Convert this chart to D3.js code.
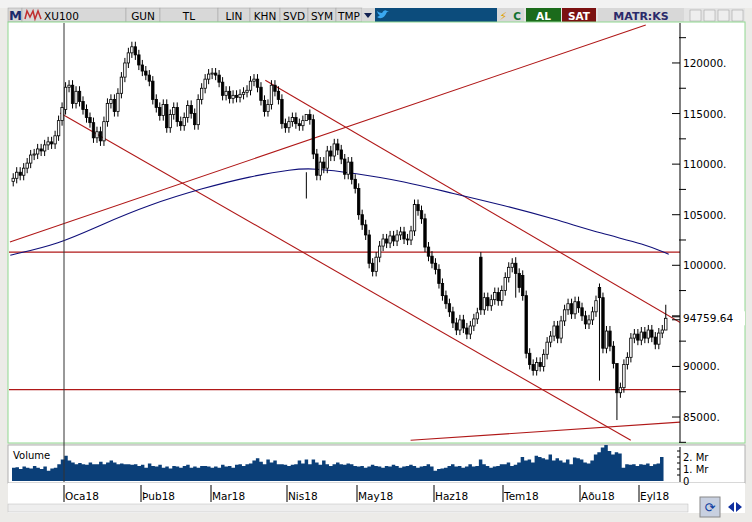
<!DOCTYPE html>
<html><head><meta charset="utf-8">
<script src="https://cdn.jsdelivr.net/npm/d3@7"></script>
<style>
body{margin:0;background:#d4d0c8;font-family:Tahoma,"DejaVu Sans",sans-serif;}
svg text{font-family:"DejaVu Sans",sans-serif;}
</style></head><body>
<svg id="c" width="752" height="522"></svg>
<script>
// daily closes (thousands), Dec 11 2017 .. Sep 12 2018
const closes = [
  108.6,109.2,108.9,109.6,110.1,110.9,111.0,111.5,111.3,111.9,112.2,112.0,112.8,114.3,115.6,
  117.6,117.8,116.0,117.2,116.2,115.4,114.6,114.1,112.6,113.2,112.3,114.2,116.0,116.4,115.2,117.0,118.6,120.0,121.0,121.6,120.8,119.8,
  119.2,118.8,118.2,116.4,115.6,114.8,115.9,113.6,114.9,115.6,114.2,113.8,114.6,115.8,115.0,113.9,116.4,117.5,118.4,118.9,
  119.0,118.8,118.1,116.8,117.2,116.5,116.8,116.6,116.9,117.1,117.3,118.2,118.4,117.6,116.3,115.2,115.9,117.8,117.2,116.4,114.0,113.6,
  114.2,114.6,114.0,113.8,114.3,114.9,114.4,111.0,108.9,110.2,109.6,111.3,110.8,112.0,111.4,110.5,109.0,110.2,108.5,107.6,
  105.0,104.0,103.0,100.2,99.4,100.8,101.9,102.6,102.2,102.9,102.4,103.0,103.3,102.6,102.5,103.4,106.0,105.4,104.6,101.8,100.9,100.2,
  99.6,98.2,97.0,96.2,95.4,94.3,93.6,94.6,93.8,93.2,94.0,94.7,95.3,95.6,96.8,96.0,96.6,97.3,96.5,97.5,
  98.8,99.8,100.2,99.2,97.8,97.0,91.3,90.2,89.6,90.4,90.0,91.2,92.4,93.0,94.0,92.8,94.5,95.6,96.2,95.2,96.4,95.8,
  95.0,94.2,94.6,95.4,96.5,96.8,91.8,93.5,92.0,90.3,87.4,87.9,90.2,90.9,92.8,93.2,92.6,
  93.4,92.8,93.6,92.9,92.2,93.3,93.6,94.76
];
const openOverrides = [[15,115.4],[134,100.8],[146,99.0],[168,97.8]];
const wickOverrides = [[84,109.2,106.6],[168,98.2,88.6],[173,88.4,84.7],[144,100.8,96.8],[187,96.1,94.4]];
// daily volume, billions (Mr)
const volumes = [
  1.1,1.15,1.0,1.2,1.1,1.05,1.25,1.1,1.0,1.2,0.85,1.05,1.1,1.4,1.8,
  2.1,1.7,1.55,1.4,1.5,1.4,1.35,1.55,1.4,1.4,1.6,1.4,1.55,1.7,1.55,1.4,1.45,1.4,1.4,1.35,1.4,1.25,
  1.35,1.1,1.45,1.25,1.2,1.35,1.1,1.2,1.05,1.25,1.2,1.1,1.25,1.35,1.1,1.2,1.1,1.25,1.25,1.2,
  1.1,1.2,1.1,1.35,1.2,1.25,1.1,1.35,1.4,1.25,1.4,1.45,1.7,1.9,1.6,1.4,1.8,1.55,1.7,1.4,1.4,1.35,
  1.25,1.35,1.4,1.7,1.45,1.8,1.4,1.8,1.55,1.35,1.7,1.4,1.25,1.4,1.55,1.4,1.35,1.45,1.4,1.25,
  1.2,1.25,1.1,1.2,1.35,1.25,1.2,1.1,1.25,1.2,1.35,1.25,1.1,1.2,1.25,1.35,1.25,1.1,1.2,1.25,1.4,1.2,
  0.85,1.0,1.05,1.1,1.25,1.4,1.2,1.25,1.1,1.2,1.4,1.2,1.25,1.8,1.4,1.25,1.1,1.2,1.25,1.4,
  1.4,1.55,1.25,1.35,1.55,2.0,1.7,1.8,1.55,2.1,2.0,1.9,1.8,2.2,1.7,1.9,1.7,1.55,1.8,1.4,1.95,1.9,
  1.8,1.55,1.45,1.7,2.2,2.4,2.8,3.0,2.5,2.2,2.4,2.3,1.1,1.4,1.35,1.4,1.25,
  1.4,1.35,1.45,1.25,1.4,1.45,2.0,2.0
];
// trend lines: [index, price] pairs
const trendLines = [
  [[-1.1,102.3],[181.4,123.76]],
  [[72.2,118.3],[191.5,94.3]],
  [[13.3,115.06],[177.1,82.7]],
  [[113.9,82.7],[191.5,84.5]]
];
const hLines = [101.3, 87.7];
const maPoints = [[-1,101.0],[13,102.1],[25,104.0],[39,106.0],[54,107.6],[68,108.8],[80,109.5],[86,109.6],[98,109.1],[112,108.3],[126,107.1],[141,105.9],[155,104.6],[169,103.1],[181,102.1],[188,101.1]];
const priceTicks = [85,90,100,105,110,115,120];
const monthLabels = ["Oca18","Þub18","Mar18","Nis18","May18","Haz18","Tem18","Aðu18","Eyl18"];
const holidays = ["2018-01-01","2018-04-23","2018-05-01","2018-06-15","2018-08-20","2018-08-21","2018-08-22","2018-08-23","2018-08-24","2018-08-30"];

// trading days
const dates = [];
for (let d = new Date(Date.UTC(2017,11,11)); dates.length < closes.length; d.setUTCDate(d.getUTCDate()+1)) {
  const wd = d.getUTCDay(), s = d.toISOString().slice(0,10);
  if (wd > 0 && wd < 6 && !holidays.includes(s)) dates.push(new Date(d));
}
const candles = closes.map((c,i) => {
  const ov = openOverrides.find(o => o[0] === i);
  const o = ov ? ov[1] : (i ? closes[i-1] : c - 0.3);
  const w = wickOverrides.find(v => v[0] === i);
  return {i, o, c, h: w ? w[1] : Math.max(o,c)+0.5, l: w ? w[2] : Math.min(o,c)-0.5};
});

const svg = d3.select('#c');
// frame / toolbar
svg.append('rect').attr('width',752).attr('height',522).attr('fill','#ecebe8');
svg.append('rect').attr('x',0).attr('y',0).attr('width',752).attr('height',8).attr('fill','#f2f2f2');
svg.append('rect').attr('x',8).attr('y',8).attr('width',737).attr('height',14).attr('fill','#e4e4e4');
svg.append('rect').attr('x',390).attr('y',8).attr('width',107).attr('height',14).attr('fill','#0c4c7c');
const btns = [[8,14,'M',0],[22,104,'XU100',0],[126,34,'GUN',1],[160,58,'TL',1],[218,32,'LIN',1],[250,30,'KHN',1],[280,28,'SVD',1],[308,28,'SYM',1],[336,26,'TMP',1]];
btns.forEach(b => {
  svg.append('rect').attr('x',b[0]).attr('y',8).attr('width',b[1]).attr('height',14).attr('fill','#d8d8d8').attr('stroke','#a0a0a0').attr('stroke-width',0.5);
  svg.append('text').attr('x',b[3] ? b[0]+b[1]/2 : b[0]+(b[2]==='M'?1:22)).attr('y',20).attr('text-anchor',b[3]?'middle':'start')
    .attr('font-size',b[2]==='M'?13:10.5).attr('font-weight',b[2]==='M'?'bold':'normal').attr('fill',b[2]==='M'?'#1a2a6a':'#000').text(b[2]);
});
svg.append('path').attr('d','M25,19 L27,11 L30,17 L33,11 L35,19 L38,11 L41,19').attr('stroke','#c03030').attr('fill','none').attr('stroke-width',1.5);
svg.append('rect').attr('x',362).attr('y',8).attr('width',13).attr('height',14).attr('fill','#d8d8d8');
svg.append('path').attr('d','M364,13 L372,13 L368,18Z').attr('fill','#102050');
svg.append('rect').attr('x',375).attr('y',8).attr('width',15).attr('height',14).attr('fill','#0c4c7c');
svg.append('path').attr('d','M377,17 Q383,21 387,12 L389,11 L387,11 Q384,9 382,13 Q379,13 377,11 Q378,15 380,15 Q378,17 377,17Z').attr('fill','#3aa8f0');
[[497,13,'#d8d8d8','⚡','#e0a000'],[510,14,'#d8d8d8','C','#107030'],[526,35,'#1b6b1b','AL','#fff'],[562,34,'#7b1111','SAT','#fff'],[598,86,'#d8d8d8','MATR:KS','#2a2a6a']].forEach(b => {
  svg.append('rect').attr('x',b[0]).attr('y',8).attr('width',b[1]).attr('height',14).attr('fill',b[2]);
  svg.append('text').attr('x',b[0]+b[1]/2).attr('y',20).attr('text-anchor','middle').attr('font-size',b[0]===598?11:10.5).attr('font-weight','bold').attr('fill',b[4]).text(b[3]);
});
[690,704,718,732].forEach(x => svg.append('rect').attr('x',x).attr('y',10).attr('width',11).attr('height',11).attr('fill','#eee').attr('stroke','#999').attr('stroke-width',0.5));

// panes
svg.append('rect').attr('x',8).attr('y',22).attr('width',737).attr('height',421).attr('fill','#fff').attr('stroke','#90d890');
svg.append('rect').attr('x',8).attr('y',445).attr('width',737).attr('height',38).attr('fill','#fff').attr('stroke','#b0b0b0');
svg.append('rect').attr('x',8).attr('y',483).attr('width',737).attr('height',30).attr('fill','#fff');
svg.append('rect').attr('x',8).attr('y',504).attr('width',680).attr('height',8).attr('fill','#eee').attr('stroke','#bbb').attr('stroke-width',0.5);

const x = d3.scaleBand().domain(d3.range(closes.length)).range([12,667]).paddingInner(0.3);
const xi = d3.scaleLinear().domain([-0.5, closes.length-0.5]).range([12,667]);
const y = d3.scaleLinear().domain([82.63,123.16]).range([441,31]);
const yv = d3.scaleLinear().domain([0,2]).range([481,457]);

const plot = svg.append('g');
svg.append('clipPath').attr('id','pc').append('rect').attr('x',9).attr('y',23).attr('width',671).attr('height',419);
plot.attr('clip-path','url(#pc)');

// axis
const ax = svg.append('g').attr('transform','translate(680,0)');
ax.append('line').attr('y1',23).attr('y2',442).attr('stroke','#000');
d3.range(82.5,124,2.5).forEach(p => {
  const major = p % 5 === 0;
  ax.append('line').attr('x1',major?-8:-1).attr('x2',major?0:6).attr('y1',y(p)).attr('y2',y(p)).attr('stroke','#000');
});
priceTicks.forEach(p => ax.append('text').attr('x',3).attr('y',y(p)+4).attr('font-size',10.5).text(d3.format('d')(p*1000)+'.'));
ax.append('rect').attr('x',1).attr('y',y(94.76)-7).attr('width',64).attr('height',14).attr('fill','#fff');
ax.append('text').attr('x',3).attr('y',y(94.76)+4).attr('font-size',10.5).text('94759.64');
ax.append('line').attr('x1',-8).attr('x2',0).attr('y1',y(94.76)-1.5).attr('y2',y(94.76)-1.5).attr('stroke','#000');
ax.append('line').attr('x1',-8).attr('x2',0).attr('y1',y(94.76)+1.5).attr('y2',y(94.76)+1.5).attr('stroke','#000');

// lines
hLines.forEach(p => plot.append('line').attr('x1',9).attr('x2',680).attr('y1',y(p)).attr('y2',y(p)).attr('stroke','#b01818').attr('stroke-width',1.2));
trendLines.forEach(t => plot.append('line').attr('x1',xi(t[0][0])).attr('y1',y(t[0][1])).attr('x2',xi(t[1][0])).attr('y2',y(t[1][1])).attr('stroke','#b01818').attr('stroke-width',1.1));
plot.append('path').datum(maPoints).attr('fill','none').attr('stroke','#10107a').attr('stroke-width',1.1)
  .attr('d',d3.line().x(d => xi(d[0])).y(d => y(d[1])).curve(d3.curveBasis));

// candles
const cg = plot.selectAll('g.c').data(candles).enter().append('g');
cg.append('line').attr('x1',d => x(d.i)+x.bandwidth()/2).attr('x2',d => x(d.i)+x.bandwidth()/2)
  .attr('y1',d => y(d.h)).attr('y2',d => y(d.l)).attr('stroke','#000');
cg.append('rect').attr('x',d => x(d.i)).attr('width',x.bandwidth())
  .attr('y',d => y(Math.max(d.o,d.c))).attr('height',d => Math.max(1,Math.abs(y(d.o)-y(d.c))))
  .attr('fill',d => d.c >= d.o ? '#fff' : '#000').attr('stroke','#000').attr('stroke-width',0.8);

// volume
svg.append('text').attr('x',13).attr('y',459).attr('font-size',10).text('Volume');
svg.append('path').datum(volumes).attr('fill','#0b3f78')
  .attr('d',d3.area().x((d,i) => xi(i-0.5)).y0(481).y1(d => yv(d)).curve(d3.curveStepAfter));
const va = svg.append('g').attr('transform','translate(680,0)');
va.append('line').attr('y1',447).attr('y2',482).attr('stroke','#000');
[0.5,1,1.5,2,2.5].forEach(v => va.append('line').attr('x1',-3).attr('x2',0).attr('y1',yv(v)).attr('y2',yv(v)).attr('stroke','#000'));
[[2,'2. Mr'],[1,'1. Mr'],[0,'0']].forEach(t => va.append('text').attr('x',3).attr('y',yv(t[0])+4).attr('font-size',10).text(t[1]));

// month ticks
let mi = 0;
dates.forEach((d,i) => {
  if (i && d.getUTCMonth() !== dates[i-1].getUTCMonth()) {
    const xx = Math.round(xi(i-0.5));
    svg.append('line').attr('x1',xx).attr('x2',xx).attr('y1',485).attr('y2',502).attr('stroke','#000');
    svg.append('text').attr('x',xx+1).attr('y',500).attr('font-size',10.5).text(monthLabels[mi++]);
  }
});
// crosshair
const cx = Math.round(xi(14.5));
svg.append('line').attr('x1',cx).attr('x2',cx).attr('y1',23).attr('y2',482).attr('stroke','#333');
// bottom icons
svg.append('rect').attr('x',700).attr('y',497).attr('width',20).attr('height',20).attr('fill','#c8d0e0').attr('stroke','#888');
svg.append('text').attr('x',710).attr('y',512).attr('text-anchor','middle').attr('font-size',13).attr('fill','#1040a0').text('⟳');
svg.append('path').attr('d','M728,507 L734,502 L734,512Z M736,502 L742,507 L736,512Z').attr('fill','#1030a0');
</script></body></html>
